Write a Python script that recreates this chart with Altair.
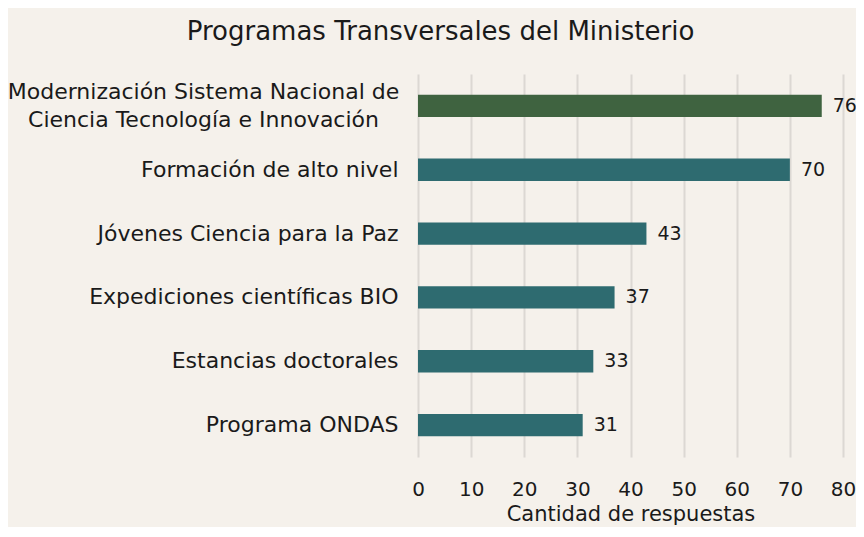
import altair as alt
import pandas as pd

categories = [
    "Modernización Sistema Nacional de\nCiencia Tecnología e Innovación",
    "Formación de alto nivel",
    "Jóvenes Ciencia para la Paz",
    "Expediciones científicas BIO",
    "Estancias doctorales",
    "Programa ONDAS",
]
values = [76, 70, 43, 37, 33, 31]
groups = ["top", "rest", "rest", "rest", "rest", "rest"]
x_ticks = [0, 10, 20, 30, 40, 50, 60, 70, 80]

df = pd.DataFrame({"programa": categories, "respuestas": values, "grupo": groups})

FONT = "DejaVu Sans"
TXT = "#1a1a1a"
MULTI = "indexof(datum.value, 'Modernizaci') == 0"

y_enc = alt.Y(
    "programa:N",
    sort=categories,
    title=None,
    scale=alt.Scale(paddingInner=0.65, paddingOuter=0.325),
    axis=alt.Axis(
        labelExpr="split(datum.label, '\\n')",
        labelFontSize=22,
        labelFont=FONT,
        labelColor=TXT,
        labelAlign={"condition": {"test": MULTI, "value": "center"}, "value": "right"},
        labelPadding={"condition": {"test": MULTI, "value": 215}, "value": 20},
        labelLineHeight=28,
        labelOffset={"condition": {"test": MULTI, "value": -14}, "value": 0},
        ticks=False,
        domain=False,
        grid=False,
        labelLimit=500,
    ),
)

x_enc = alt.X(
    "respuestas:Q",
    title="Cantidad de respuestas",
    scale=alt.Scale(domain=[0, 80], nice=False),
    axis=alt.Axis(
        values=x_ticks,
        grid=True,
        gridColor="#dcd8d3",
        gridWidth=2,
        ticks=False,
        domain=False,
        labelFlush=False,
        labelFontSize=20,
        labelFont=FONT,
        labelColor=TXT,
        labelPadding=22,
        titleFontSize=21,
        titleFont=FONT,
        titleFontWeight="normal",
        titleColor=TXT,
        titlePadding=4,
    ),
)

bars = alt.Chart(df).mark_bar().encode(
    y=y_enc,
    x=x_enc,
    color=alt.Color(
        "grupo:N",
        scale=alt.Scale(domain=["top", "rest"], range=["#3f6340", "#2e6b70"]),
        legend=None,
    ),
)

labels = alt.Chart(df).mark_text(
    align="left", baseline="middle", dx=11, fontSize=19, font=FONT, color=TXT
).encode(
    y=alt.Y("programa:N", sort=categories),
    x=alt.X("respuestas:Q"),
    text=alt.Text("respuestas:Q"),
)

chart = (
    alt.layer(bars, labels)
    .properties(
        width=425,
        height=383,
        autosize=alt.AutoSizeParams(type="none"),
        padding={"left": 410, "top": 66, "right": 13, "bottom": 70},
        background="#f5f1eb",
        title=alt.TitleParams(
            "Programas Transversales del Ministerio",
            font=FONT,
            fontSize=26,
            fontWeight="normal",
            color=TXT,
            anchor="middle",
            frame="group",
            dx=-190,
            offset=29,
        ),
    )
    .configure_view(stroke=None)
)

chart.save("out.html", embed_options={"renderer": "svg", "actions": False})
